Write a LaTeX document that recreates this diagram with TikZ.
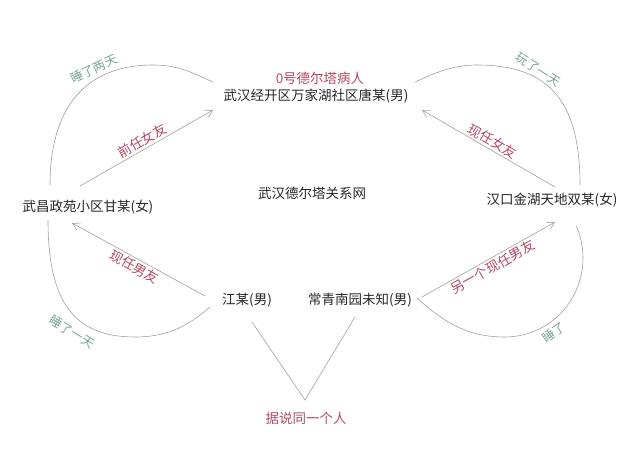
\documentclass[tikz,border=0pt]{standalone}
\usepackage{fontspec}
\setmainfont{Noto Sans CJK SC}
\usetikzlibrary{positioning}
\usetikzlibrary{calc}
\usetikzlibrary{arrows.meta}
\definecolor{tagred}{HTML}{B24A62}
\definecolor{sleepgreen}{HTML}{78A49A}
\definecolor{linegray}{HTML}{A0A0A0}
\tikzset{>={Straight Barb[length=7pt,width=8pt]}}
\tikzset{person/.style={font=\fontsize{13.5}{15}\selectfont, text=black!85, inner sep=2pt}}
\tikzset{relation/.style={font=\fontsize{13.5}{15}\selectfont, text=tagred, inner sep=2pt}}
\tikzset{sleep/.style={font=\fontsize{12.5}{14}\selectfont, text=sleepgreen, inner sep=1pt}}
\tikzset{link/.style={draw=linegray, line width=0.6pt}}

\begin{document}
\begin{tikzpicture}[x=1pt,y=1pt]

    \useasboundingbox (0,0) rectangle (641,451);

    % People.
    \node [relation] (patient0) at (320,373) {0号德尔塔病人};
    \node [person] (tang) at (316,355) {武汉经开区万家湖社区唐某(男)};
    \node [person] (title) at (312,258) {武汉德尔塔关系网};
    \node [person] (gan) at (88,244) {武昌政苑小区甘某(女)};
    \node [person] (shuang) at (552,251) {汉口金湖天地双某(女)};
    \node [person] (jiang) at (247,151) {江某(男)};
    \node [person] (chang) at (360,151) {常青南园未知(男)};
    \node [relation] (same) at (306,33) {据说同一个人};

    % Coordinates for simplicity.
    \coordinate (gan-ne) at (80,265);
    \coordinate (tang-sw) at (213,341);
    \coordinate (tang-se) at (422,341);
    \coordinate (shuang-nw) at (555,264);
    \coordinate (gan-se) at (72,228);
    \coordinate (jiang-w) at (205,155);
    \coordinate (chang-e) at (422,154);
    \coordinate (shuang-sw) at (555,229);

    % Lines between partners.
    \draw [link,->] (gan-ne) -- (tang-sw)
        node [relation, midway, sloped, above] (exgf) {前任女友};
    \draw [link,<-] (tang-se) -- (shuang-nw)
        node [relation, midway, sloped, above] (nowgf) {现任女友};
    \draw [link,<-] (gan-se) -- (jiang-w)
        node [relation, midway, sloped, below] (nowbf) {现任男友};
    \draw [link,->] (chang-e) -- (shuang-sw)
        node [relation, midway, sloped, below] (otherbf) {另一个现任男友};

    % Arcs for the days spent together.
    \coordinate (gan-top) at (50,266);
    \coordinate (arc1-top) at (153,386);
    \coordinate (tang-left) at (213,369);
    \draw [link] (gan-top) .. controls (50,344) and (86,386) .. (arc1-top)
        .. controls (178,386) and (193,378) .. (tang-left);

    \coordinate (tang-right) at (415,369);
    \coordinate (arc2-top) at (477,386);
    \coordinate (shuang-top) at (580,266);
    \draw [link] (tang-right) .. controls (435,378) and (452,386) .. (arc2-top)
        .. controls (549,386) and (580,350) .. (shuang-top);

    \coordinate (gan-bottom) at (48,231);
    \coordinate (arc3-bottom) at (135,114);
    \coordinate (jiang-left) at (210,144);
    \draw [link] (gan-bottom) .. controls (48,149) and (74,114) .. (arc3-bottom)
        .. controls (170,114) and (190,127) .. (jiang-left);

    \coordinate (chang-right) at (417,153);
    \coordinate (arc4-bottom) at (505,114);
    \draw [link] (chang-right) .. controls (447,126) and (470,114) .. (arc4-bottom)
        arc [start angle=-90, end angle=24, x radius=78, y radius=79];

    \node [sleep, rotate=25] (sleep2) at (94,382) {睡了两天};
    \node [sleep, rotate=-33] (play1) at (538,381) {玩了一天};
    \node [sleep, rotate=-32] (sleep1) at (72,119) {睡了一天};
    \node [sleep, rotate=35] (slept) at (554,118) {睡了};

    % Lines to the same person.
    \coordinate (apex) at (305,51);
    \coordinate (jiang-down) at (252,129);
    \coordinate (chang-down) at (355,134);
    \draw [link] (jiang-down) -- (apex) -- (chang-down);

\end{tikzpicture}
\end{document}
